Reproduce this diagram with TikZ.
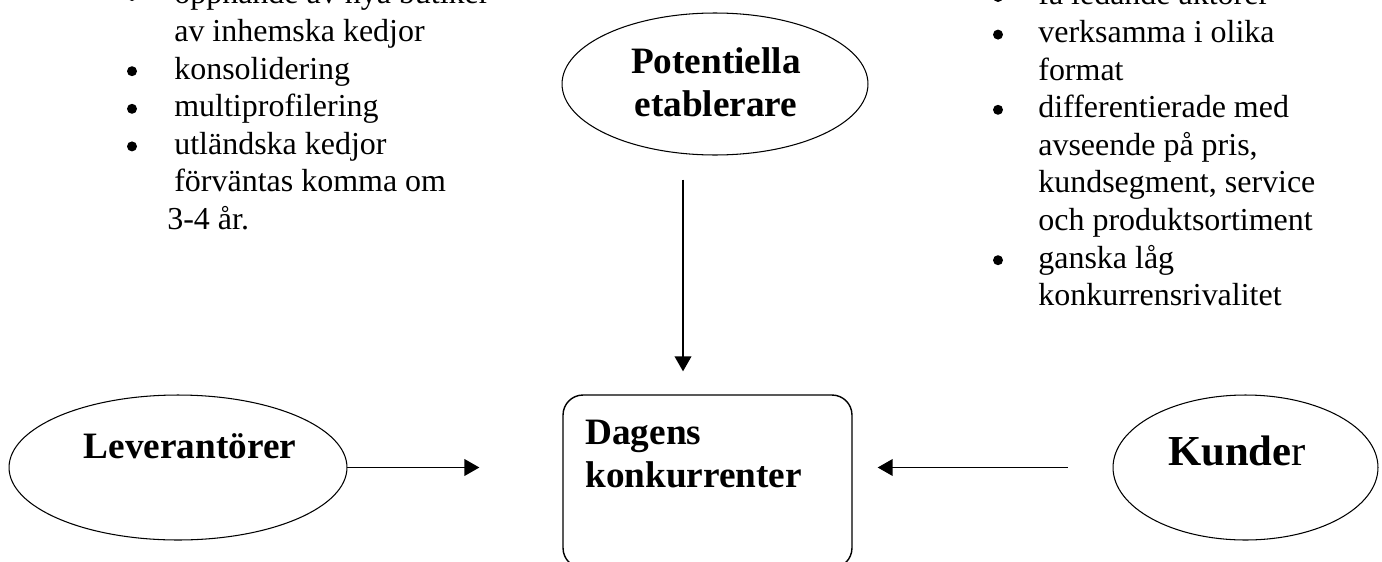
\documentclass[tikz,border=0pt]{standalone}
\usepackage{fontspec}
\setmainfont{Liberation Serif}
\usetikzlibrary{arrows.meta, shapes.geometric, calc}

\begin{document}
\begin{tikzpicture}[
        x=0.02cm, y=-0.02cm,
        oval/.style={
            ellipse,
            draw,
            line width=0.6pt,
            inner sep=0pt
        },
        ruta/.style={
            rectangle,
            rounded corners=0.4cm,
            draw,
            line width=0.8pt,
            inner sep=0pt,
            minimum width=5.78cm,
            minimum height=3.46cm
        },
        rubrik/.style={
            font=\fontsize{21.2}{24}\selectfont\bfseries,
            align=center,
            inner sep=0pt
        },
        lista/.style={
            font=\fontsize{18.2}{21.4}\selectfont,
            anchor=base west,
            inner sep=0pt
        },
        pil/.style={
            -{Triangle[length=8.5pt,width=9.5pt]},
            line width=0.8pt
        }
    ]

    \clip (0,0) rectangle (1382,561);

    % noder
    \node[oval, minimum width=6.12cm, minimum height=2.84cm] (pot) at (715,84) {};
    \node[rubrik, anchor=base] (pottext) at (716,116) {Potentiella\\etablerare};

    \node[ruta] (dagens) at (707.5,481.5) {};
    \node[rubrik, anchor=base west, align=left] (dagtext) at (585,487) {Dagens\\konkurrenter};

    \node[oval, minimum width=6.76cm, minimum height=2.9cm] (lev) at (178,467.5) {};
    \node[rubrik, anchor=base] (levtext) at (190,458) {Leverantörer};

    \node[oval, minimum width=5.3cm, minimum height=2.9cm] (kund) at (1245.5,467.5) {};
    \node[font=\fontsize{24.3}{28}\selectfont, anchor=base, inner sep=0pt] (kundtext) at (1237,465) {\textbf{Kunde}r};

    % listor
    \node[lista] (hot) at (126.4,4) {\begin{tabular}[t]{@{}p{0.952cm}@{}l@{}}
          & öppnande av nya butiker\\
          & av inhemska kedjor\\
          & konsolidering\\
          & multiprofilering\\
          & utländska kedjor\\
          & förväntas komma om\\
          & \hspace{-0.14cm}3-4 år.
    \end{tabular}};

    \node[lista] (rival) at (992.4,5) {\begin{tabular}[t]{@{}p{0.912cm}@{}l@{}}
          & få ledande aktörer\\
          & verksamma i olika\\
          & format\\
          & differentierade med\\
          & avseende på pris,\\
          & kundsegment, service\\
          & och produktsortiment\\
          & ganska låg\\
          & konkurrensrivalitet
    \end{tabular}};

    % punkter
    \foreach \y in {-4,71.2,108.8,146.4}
        \fill (132,\y) circle (5);
    \foreach \y in {-3,34.6,109.8,260.2}
        \fill (998,\y) circle (5);

    % pilar
    \draw[pil] ($(pot.south)+(-32,24)$) -- ($(dagens.north)+(-24.5,-23)$);
    \draw[pil, shorten >=1.66cm] (lev.east) -- (lev.east -| dagens.west);
    \draw[pil, shorten <=0.9cm, shorten >=0.5cm] (kund.west) -- (kund.west -| dagens.east);

\end{tikzpicture}
\end{document}
